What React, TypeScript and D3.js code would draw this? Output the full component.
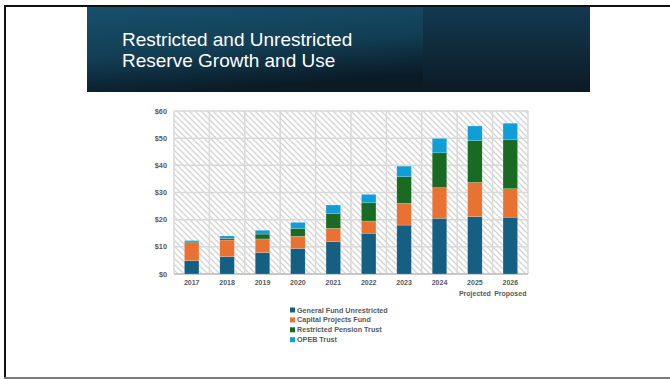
import React from "react";
import * as d3 from "d3";

const years = ["2017", "2018", "2019", "2020", "2021", "2022", "2023", "2024", "2025", "2026"];
const subLabels = ["", "", "", "", "", "", "", "", "Projected", "Proposed"];
const generalFund = [4.9, 6.4, 7.9, 9.4, 11.9, 15.0, 18.0, 20.5, 21.1, 20.9];
const capitalProjects = [6.6, 6.1, 5.0, 4.5, 4.9, 4.5, 8.0, 11.3, 12.6, 10.5];
const pensionTrust = [0.3, 0.6, 1.8, 2.9, 5.5, 6.7, 9.8, 12.8, 15.4, 18.0];
const opebTrust = [0.5, 0.9, 1.4, 2.2, 3.1, 3.1, 3.9, 5.3, 5.4, 6.1];
const seriesNames = ["General Fund Unrestricted", "Capital Projects Fund", "Restricted Pension Trust", "OPEB Trust"];
const seriesColors = ["#156082", "#E97132", "#196B24", "#0F9ED5"];
const yTicks = [0, 10, 20, 30, 40, 50, 60];
const titleLines = ["Restricted and Unrestricted", "Reserve Growth and Use"];

export default function App() {
  const W = 670, H = 379;
  const left = 174, right = 528, top = 111, bottom = 274;
  const x = d3.scaleBand<string>().domain(years).range([left, right]).paddingInner(0.59).paddingOuter(0.295);
  const y = d3.scaleLinear().domain([0, 60]).range([bottom, top]);
  const step = x.step();
  const bw = x.bandwidth();
  const rows = years.map((yr, i) => ({
    year: yr,
    s0: generalFund[i],
    s1: capitalProjects[i],
    s2: pensionTrust[i],
    s3: opebTrust[i],
  }));
  const keys = ["s0", "s1", "s2", "s3"];
  const stacked = d3.stack<any>().keys(keys)(rows);
  const font = "'Liberation Sans', Arial, sans-serif";
  const boundaries = years.map((yr) => (x(yr) as number) + bw / 2 - step / 2).concat([right]);

  return (
    <svg width={W} height={H} style={{ position: "fixed", left: 0, top: 0, display: "block", background: "#fff" }}>
      <defs>
        <pattern id="hatch" width="6" height="6" patternUnits="userSpaceOnUse">
          <rect width="6" height="6" fill="#ffffff" />
          <path d="M-1,-1 L7,7 M-1,5 L1,7 M5,-1 L7,1" stroke="#d4d4d4" strokeWidth="1.3" />
        </pattern>
        <linearGradient id="bannerL" x1="0" y1="0" x2="0.3" y2="1">
          <stop offset="0" stopColor="#17506b" />
          <stop offset="0.55" stopColor="#123f56" />
          <stop offset="1" stopColor="#0a1b26" />
        </linearGradient>
        <linearGradient id="bannerR" x1="0" y1="0" x2="0" y2="1">
          <stop offset="0" stopColor="#133a50" />
          <stop offset="1" stopColor="#0c1a24" />
        </linearGradient>
      </defs>
      {/* slide frame */}
      <rect x={0} y={0} width={W} height={H} fill="#fff" />
      <line x1={4} x2={W} y1={6} y2={6} stroke="#111" strokeWidth={2} />
      <line x1={5} x2={5} y1={5} y2={379} stroke="#111" strokeWidth={2} />
      <line x1={4} x2={W} y1={378} y2={378} stroke="#7a7a7a" strokeWidth={2} />

      {/* banner */}
      <rect x={87} y={7} width={336} height={85} fill="url(#bannerL)" />
      <rect x={423} y={7} width={167} height={85} fill="url(#bannerR)" />
      {titleLines.map((t, i) => (
        <text key={t} x={122} y={46 + i * 21} fill="#ffffff" fontFamily={font} fontSize={19}>
          {t}
        </text>
      ))}

      {/* plot background */}
      <rect x={left} y={top} width={right - left} height={bottom - top} fill="url(#hatch)" />
      {yTicks.map((t) => (
        <line key={"h" + t} x1={left} x2={right} y1={y(t)} y2={y(t)} stroke="#d9d9d9" strokeWidth={1.5} />
      ))}
      {boundaries.map((bx, i) => (
        <line key={"v" + i} x1={bx} x2={bx} y1={top} y2={bottom} stroke="#d9d9d9" strokeWidth={1.5} />
      ))}
      <line x1={left} x2={right} y1={bottom} y2={bottom} stroke="#bfbfbf" strokeWidth={1.5} />

      {/* bars */}
      {stacked.map((layer, si) => (
        <g key={layer.key} fill={seriesColors[si]}>
          {layer.map((d: any, i: number) => (
            <rect
              key={i}
              x={x(years[i])}
              y={y(d[1])}
              width={bw}
              height={Math.max(0, y(d[0]) - y(d[1]))}
              stroke="#ffffff"
              strokeOpacity={0.35}
              strokeWidth={0.5}
            />
          ))}
        </g>
      ))}

      {/* y axis labels */}
      {yTicks.map((t) => (
        <text key={"yl" + t} x={167} y={y(t)} dy="0.35em" textAnchor="end" fontFamily={font} fontSize={7.3} fontWeight="bold" fill="#595959">
          {"$" + t}
        </text>
      ))}
      {/* x axis labels */}
      {years.map((yr, i) => (
        <g key={"xl" + yr}>
          <text x={(x(yr) as number) + bw / 2} y={285} textAnchor="middle" fontFamily={font} fontSize={7} fontWeight="bold" fill="#595959">
            {yr}
          </text>
          {subLabels[i] && (
            <text x={(x(yr) as number) + bw / 2} y={295.5} textAnchor="middle" fontFamily={font} fontSize={7} fontWeight="bold" fill="#595959">
              {subLabels[i]}
            </text>
          )}
        </g>
      ))}

      {/* legend */}
      {seriesNames.map((n, i) => (
        <g key={n}>
          <rect x={290} y={307.5 + i * 9.9} width={5} height={5} fill={seriesColors[i]} />
          <text x={297} y={312.5 + i * 9.9} fontFamily={font} fontSize={7.2} fontWeight="bold" fill="#595959">
            {n}
          </text>
        </g>
      ))}
    </svg>
  );
}
